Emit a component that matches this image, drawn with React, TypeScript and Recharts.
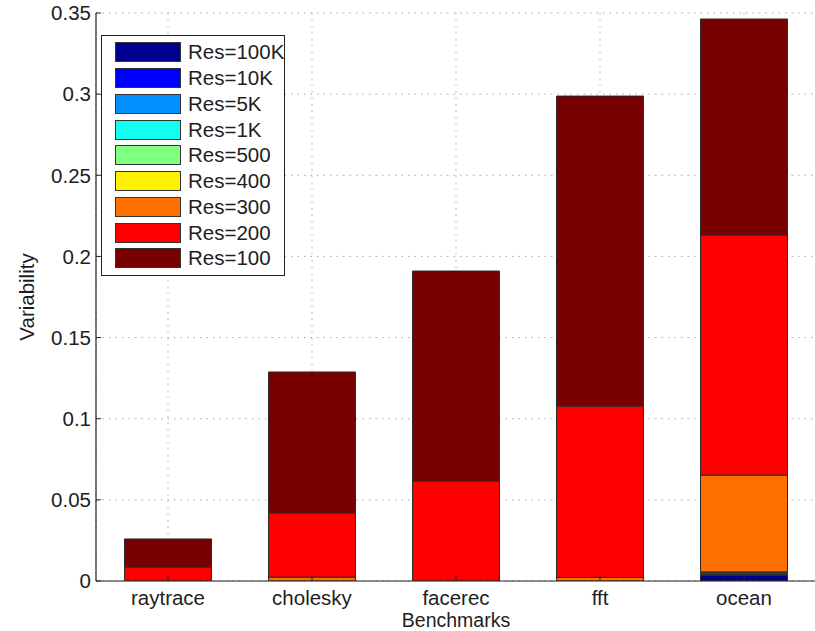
import React from 'react';
import { BarChart, Bar, XAxis, YAxis, CartesianGrid, Legend } from 'recharts';

const categories = ['raytrace', 'cholesky', 'facerec', 'fft', 'ocean'];
const seriesNames = ['Res=100K', 'Res=10K', 'Res=5K', 'Res=1K', 'Res=500', 'Res=400', 'Res=300', 'Res=200', 'Res=100'];
const seriesColors = ['#00008F', '#0000FF', '#0090FF', '#10FFEF', '#80FF80', '#FFEF00', '#FF7000', '#FF0000', '#780000'];
const res100K = [0, 0, 0, 0, 0.0035];
const res10K = [0, 0, 0, 0, 0.0003];
const res5K = [0, 0, 0, 0, 0.0003];
const res1K = [0, 0, 0, 0, 0.0004];
const res500 = [0, 0, 0, 0, 0.0008];
const res400 = [0, 0, 0, 0, 0.0003];
const res300 = [0, 0.0024, 0, 0.0022, 0.0597];
const res200 = [0.0086, 0.0395, 0.0616, 0.1056, 0.1479];
const res100 = [0.0173, 0.0869, 0.1294, 0.191, 0.1331];
const seriesValues = [res100K, res10K, res5K, res1K, res500, res400, res300, res200, res100];
const yTicks = [0, 0.05, 0.1, 0.15, 0.2, 0.25, 0.3, 0.35];
const yTickLabels = ['0', '0.05', '0.1', '0.15', '0.2', '0.25', '0.3', '0.35'];

const data = categories.map((name, i) => {
  const row: Record<string, string | number> = { name };
  seriesNames.forEach((s, k) => {
    row[s] = seriesValues[k][i];
  });
  return row;
});

const FONT = '"Liberation Sans", Arial, Helvetica, sans-serif';
const TXT = '#1e1e1e';
const AX = '#222';
const FS = 20.5;

const LeftTick = (props: any) => {
  const { x, y, payload } = props;
  return (
    <g>
      <line x1={x + 5} x2={x + 10} y1={y} y2={y} stroke={AX} strokeWidth={1} />
      <text x={x} y={y} dy="0.355em" textAnchor="end" fontSize={FS} fontFamily={FONT} fill={TXT}>
        {yTickLabels[yTicks.indexOf(payload.value)] ?? String(payload.value)}
      </text>
    </g>
  );
};

const RightTick = (props: any) => {
  const { x, y } = props;
  return <line x1={x - 5} x2={x} y1={y} y2={y} stroke={AX} strokeWidth={1} />;
};

const BottomTick = (props: any) => {
  const { x, y, payload } = props;
  return (
    <g>
      <line x1={x} x2={x} y1={y - 9} y2={y - 14} stroke={AX} strokeWidth={1} />
      <text x={x} y={y} dy="0.71em" textAnchor="middle" fontSize={FS} fontFamily={FONT} fill={TXT}>
        {payload.value}
      </text>
    </g>
  );
};

const TopTick = (props: any) => {
  const { x, y } = props;
  return <line x1={x} x2={x} y1={y} y2={y + 5} stroke={AX} strokeWidth={1} />;
};

const LegendBox = (props: any) => {
  const items = [...(props.payload || [])].sort(
    (a: any, b: any) => seriesNames.indexOf(a.value) - seriesNames.indexOf(b.value)
  );
  return (
    <div
      style={{
        border: `1px solid ${AX}`,
        background: '#fff',
        padding: '3.6px 0 3.6px 13px',
        width: 169,
        fontFamily: FONT,
        boxSizing: 'content-box',
      }}
    >
      {items.map((p: any) => (
        <div key={p.value} style={{ height: 25.75, display: 'flex', alignItems: 'center', whiteSpace: 'nowrap' }}>
          <div
            style={{
              width: 64,
              height: 18,
              flexShrink: 0,
              background: p.color,
              border: '1px solid #333',
              marginRight: 7,
            }}
          />
          <span style={{ fontSize: FS, color: TXT, lineHeight: '20px' }}>{p.value}</span>
        </div>
      ))}
    </div>
  );
};

export default function App() {
  return (
    <div
      style={{
        position: 'absolute',
        left: 0,
        top: 0,
        width: 815,
        height: 631,
        overflow: 'hidden',
        background: '#fff',
      }}
    >
      <BarChart
        width={830}
        height={631}
        data={data}
        margin={{ top: 13, right: 0, left: 0, bottom: 0 }}
        barCategoryGap={28.5}
      >
        <CartesianGrid stroke="#aaaaaa" strokeDasharray="1.5 5" />
        <XAxis
          dataKey="name"
          height={50}
          tickSize={0}
          tickMargin={9}
          tick={<BottomTick />}
          tickLine={false}
          axisLine={{ stroke: AX, strokeWidth: 1.2 }}
          label={{ value: 'Benchmarks', position: 'insideBottom', offset: 4.5, fontSize: 19.5, fontFamily: FONT, fill: TXT }}
        />
        <XAxis
          xAxisId="top"
          dataKey="name"
          orientation="top"
          height={0}
          tickSize={0}
          tickMargin={0}
          tick={<TopTick />}
          tickLine={false}
          axisLine={{ stroke: AX, strokeWidth: 1.2 }}
        />
        <YAxis
          width={96}
          domain={[0, 0.35]}
          ticks={yTicks}
          type="number"
          allowDataOverflow
          tickSize={0}
          tickMargin={5}
          tick={<LeftTick />}
          tickLine={false}
          axisLine={{ stroke: AX, strokeWidth: 1.2 }}
          label={{
            value: 'Variability',
            angle: -90,
            position: 'insideLeft',
            offset: 27,
            fontSize: FS,
            fontFamily: FONT,
            fill: TXT,
            style: { textAnchor: 'middle' },
          }}
        />
        <YAxis
          yAxisId="right"
          orientation="right"
          width={14}
          domain={[0, 0.35]}
          ticks={yTicks}
          type="number"
          tickSize={0}
          tickMargin={0}
          tick={<RightTick />}
          tickLine={false}
          axisLine={{ stroke: AX, strokeWidth: 1.2 }}
        />
        <Legend
          layout="horizontal"
          verticalAlign="middle"
          align="center"
          content={<LegendBox />}
          wrapperStyle={{ position: 'absolute', left: 101, top: 35, width: 'auto', height: 'auto' }}
        />
        {seriesNames.map((s, k) => (
          <Bar
            key={s}
            dataKey={s}
            name={s}
            stackId="a"
            fill={seriesColors[k]}
            stroke="#2a2a2a"
            strokeWidth={1}
            isAnimationActive={false}
          />
        ))}
      </BarChart>
    </div>
  );
}
